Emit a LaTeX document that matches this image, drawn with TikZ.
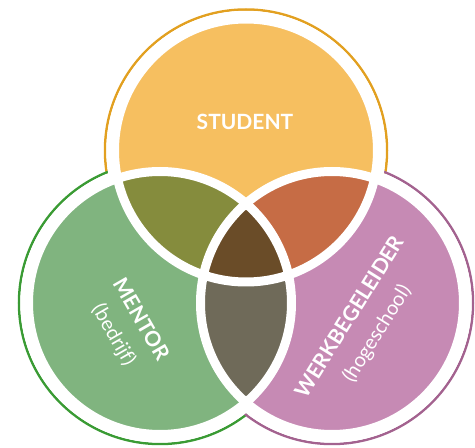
\documentclass[tikz,border=0pt]{standalone}
\usepackage{fontspec}
\setmainfont{Lato}

\definecolor{studentfill}{HTML}{F6BF60}
\definecolor{studentring}{HTML}{E2A020}
\definecolor{mentorfill}{HTML}{80B47F}
\definecolor{mentorring}{HTML}{3A9B34}
\definecolor{werkfill}{HTML}{C68AB4}
\definecolor{werkring}{HTML}{A3628F}
\definecolor{studmentor}{HTML}{858C3D}
\definecolor{studwerk}{HTML}{C66C45}
\definecolor{mentorwerk}{HTML}{6F6A59}
\definecolor{allthree}{HTML}{6A4C28}

\newcommand{\titlefont}{\bfseries\fontsize{21}{31}\selectfont}
\newcommand{\subfont}{\fontsize{20}{31}\selectfont}

\begin{document}
\begin{tikzpicture}[x=1pt, y=1pt,
  ring/.style={line width=2.5pt},
  gap/.style={draw=white, line width=9pt},
  label/.style={text=white, align=center, font=\fontsize{20}{31}\selectfont}]
\useasboundingbox (0,0) rectangle (475,448);

\coordinate (s) at (246,297.5);
\coordinate (m) at (160,145);
\coordinate (w) at (332,145);

% outer rings
\foreach \c/\col in {s/studentring, m/mentorring, w/werkring}
  \draw[ring, \col] (\c) circle (141);
\foreach \c in {s, m, w}
  \fill[white] (\c) circle (139.7);

% circles
\fill[studentfill] (s) circle (131.5);
\fill[mentorfill] (m) circle (131.5);
\fill[werkfill] (w) circle (131.5);

% overlaps
\begin{scope}
  \clip (m) circle (131.5);
  \fill[mentorwerk] (w) circle (131.5);
\end{scope}
\begin{scope}
  \clip (s) circle (131.5);
  \fill[studmentor] (m) circle (131.5);
  \fill[studwerk] (w) circle (131.5);
  \clip (m) circle (131.5);
  \fill[allthree] (w) circle (131.5);
\end{scope}

\foreach \c in {s, m, w}
  \draw[gap] (\c) circle (131.5);

\node[label] (student) at (245,326.5) {\titlefont STUDENT};
\node[label, rotate=-60] (mentor) at (127,120.5)
  {{\titlefont MENTOR}\\{\subfont (bedrijf)}};
\node[label, rotate=58] (werk) at (364,122.5)
  {{\titlefont WERKBEGELEIDER}\\{\subfont (hogeschool)}};
\end{tikzpicture}
\end{document}
